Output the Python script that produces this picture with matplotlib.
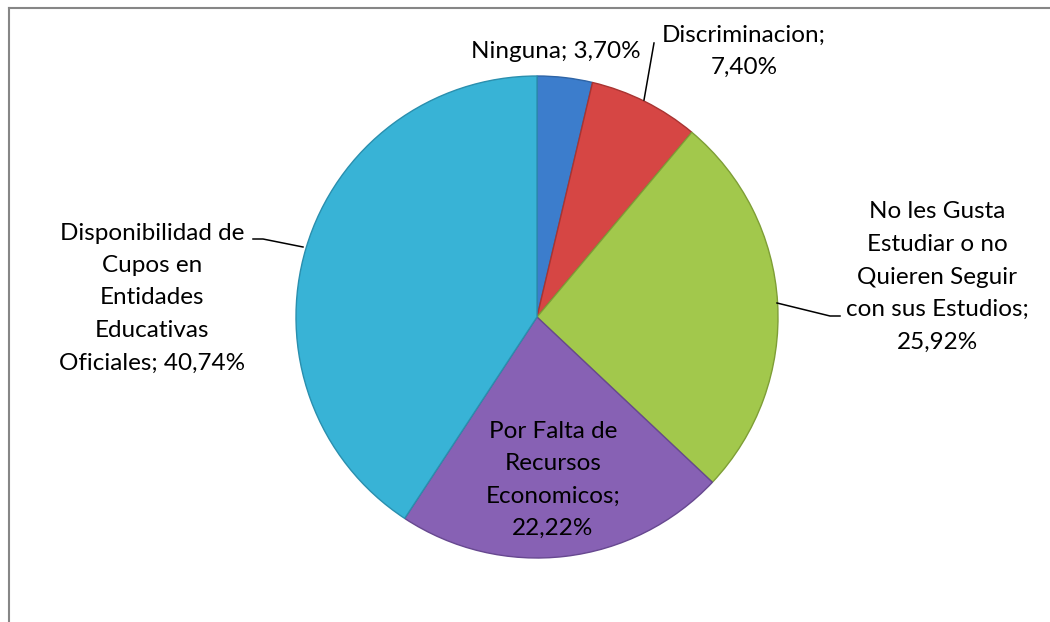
import matplotlib
matplotlib.use("Agg")
import matplotlib.pyplot as plt
from matplotlib.lines import Line2D

# ---- data ----
categories = ["Ninguna", "Discriminacion", "No les Gusta Estudiar o no Quieren Seguir con sus Estudios",
              "Por Falta de Recursos Economicos", "Disponibilidad de Cupos en Entidades Educativas Oficiales"]
values = [3.70, 7.40, 25.92, 22.22, 40.74]
value_labels = ["3,70%", "7,40%", "25,92%", "22,22%", "40,74%"]
label_lines = [
    ["Ninguna; 3,70%"],
    ["Discriminacion;", "7,40%"],
    ["No les Gusta", "Estudiar o no", "Quieren Seguir", "con sus Estudios;", "25,92%"],
    ["Por Falta de", "Recursos", "Economicos;", "22,22%"],
    ["Disponibilidad de", "Cupos en", "Entidades", "Educativas", "Oficiales; 40,74%"],
]
colors = ["#3c7dcc", "#d64644", "#a2c84c", "#8761b4", "#38b3d6"]
edge_colors = ["#2e64a6", "#a83432", "#7e9e36", "#674890", "#2a8fae"]

W, H = 1050, 622
fig = plt.figure(figsize=(W / 100, H / 100), dpi=100)
ax = fig.add_axes([0, 0, 1, 1])

cx, cy, r = 537, H - 317, 241
wedges, _ = ax.pie(values, colors=colors, startangle=90, counterclock=False,
                   center=(cx, cy), radius=r, frame=True,
                   wedgeprops=dict(linewidth=1.0))
for w, ec in zip(wedges, edge_colors):
    w.set_edgecolor(ec)
ax.set_xlim(0, W)
ax.set_ylim(0, H)
ax.set_aspect("equal")
ax.axis("off")

font = dict(family=["Lato", "DejaVu Sans"], fontsize=17.5, color="black")

def put(lines, xc, y_first, step=32.5):
    for i, s in enumerate(lines):
        ax.text(xc, H - (y_first + i * step), s, ha="center", va="center", **font)

put(label_lines[0], 556, 52)
put(label_lines[1], 744, 35)
put(label_lines[2], 937, 212)
put(label_lines[3], 553, 431)
put(label_lines[4], 152, 233)

# leader lines
lk = dict(color="black", linewidth=1.1)
ax.plot([654, 644], [H - 43, H - 100], **lk)
ax.plot([777, 830, 840], [H - 303, H - 316, H - 316], **lk)
ax.plot([253, 263, 303], [H - 239, H - 239, H - 247], **lk)

# partial chart border (top & left)
fig.add_artist(Line2D([8.5 / W, 1.0], [1 - 7.5 / H, 1 - 7.5 / H], transform=fig.transFigure,
                      color="#868686", linewidth=1.5))
fig.add_artist(Line2D([8.5 / W, 8.5 / W], [0, 1 - 7.5 / H], transform=fig.transFigure,
                      color="#868686", linewidth=1.5))

fig.savefig("out.png", dpi=100, facecolor="white")
